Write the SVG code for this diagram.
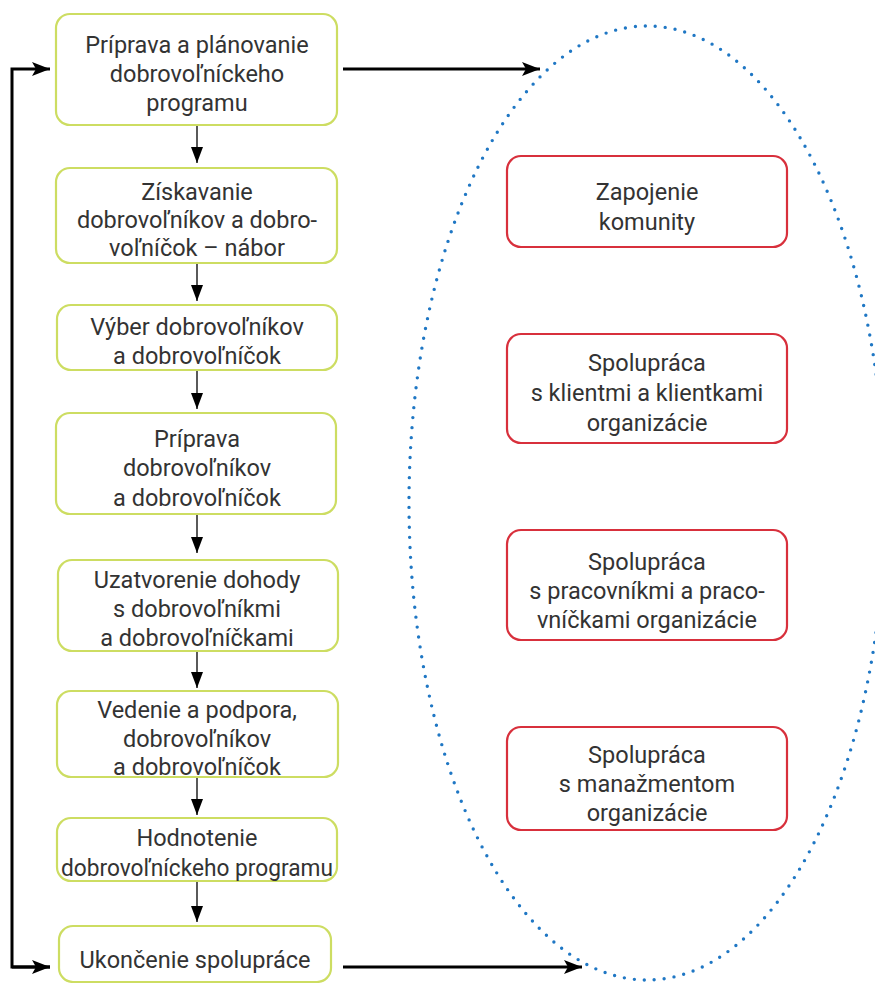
<svg xmlns="http://www.w3.org/2000/svg" width="875" height="983" viewBox="0 0 875 983">
<defs>
<style>
.g{fill:#fff;stroke:#cddd62;stroke-width:2.2}
.r{fill:#fff;stroke:#d8303c;stroke-width:2.2}
text{font-family:Roboto,"Liberation Sans",sans-serif;font-size:23.5px;fill:#333;text-anchor:middle}
.thin{stroke:#000;stroke-width:1.3;fill:none}
.thick{stroke:#000;stroke-width:3;fill:none}
</style>
<marker id="sh" viewBox="0 0 16 12" refX="16" refY="6" markerWidth="16" markerHeight="12" orient="auto" markerUnits="userSpaceOnUse">
<path d="M0,0 L16,6 L0,12 z" fill="#000"/>
</marker>
<marker id="bh" viewBox="0 0 18 14" refX="18" refY="7" markerWidth="18" markerHeight="14" orient="auto" markerUnits="userSpaceOnUse">
<path d="M0,0 L18,7 L0,14 L4,7 z" fill="#000"/>
</marker>
</defs>
<rect width="875" height="983" fill="#fff"/>
<ellipse id="circle" cx="647" cy="503" rx="238" ry="477" fill="none" stroke="#1f77c4" stroke-width="3.4" stroke-dasharray="0 10" stroke-linecap="round"/>
<g id="connectors">
<line class="thin" x1="197" y1="125" x2="197" y2="163" marker-end="url(#sh)"/>
<line class="thin" x1="197" y1="263" x2="197" y2="301" marker-end="url(#sh)"/>
<line class="thin" x1="197" y1="370" x2="197" y2="409" marker-end="url(#sh)"/>
<line class="thin" x1="197" y1="514" x2="197" y2="553" marker-end="url(#sh)"/>
<line class="thin" x1="197" y1="651" x2="197" y2="688" marker-end="url(#sh)"/>
<line class="thin" x1="197" y1="777" x2="197" y2="815" marker-end="url(#sh)"/>
<line class="thin" x1="197" y1="881" x2="197" y2="922" marker-end="url(#sh)"/>
<path class="thick" d="M50,967 H12 V69 H50" marker-end="url(#bh)"/>
<line class="thick" x1="12" y1="967" x2="50" y2="967" marker-end="url(#bh)"/>
<line class="thick" x1="343" y1="69" x2="540" y2="69" marker-end="url(#bh)"/>
<line class="thick" x1="343" y1="967" x2="582" y2="967" marker-end="url(#bh)"/>
</g>
<g id="n1"><rect class="g" x="56" y="14" width="281" height="111" rx="14"/>
<text x="197" y="53">Príprava a plánovanie</text><text x="197" y="82">dobrovoľníckeho</text><text x="197" y="111">programu</text></g>
<g id="n2"><rect class="g" x="56" y="168" width="281" height="95" rx="14"/>
<text x="197" y="200">Získavanie</text><text x="197" y="228">dobrovoľníkov a dobro-</text><text x="197" y="256">voľníčok – nábor</text></g>
<g id="n3"><rect class="g" x="57" y="305" width="280" height="65" rx="14"/>
<text x="197" y="335">Výber dobrovoľníkov</text><text x="197" y="364">a dobrovoľníčok</text></g>
<g id="n4"><rect class="g" x="56" y="413" width="280" height="101" rx="14"/>
<text x="197" y="447">Príprava</text><text x="197" y="476">dobrovoľníkov</text><text x="197" y="506">a dobrovoľníčok</text></g>
<g id="n5"><rect class="g" x="58" y="560" width="280" height="91" rx="14"/>
<text x="197" y="588">Uzatvorenie dohody</text><text x="197" y="617">s dobrovoľníkmi</text><text x="197" y="646">a dobrovoľníčkami</text></g>
<g id="n6"><rect class="g" x="57" y="691" width="281" height="86" rx="14"/>
<text x="197" y="718">Vedenie a podpora,</text><text x="197" y="747">dobrovoľníkov</text><text x="197" y="775">a dobrovoľníčok</text></g>
<g id="n7"><rect class="g" x="57" y="818" width="280" height="63" rx="14"/>
<text x="197" y="846">Hodnotenie</text><text x="197" y="876" textLength="272" lengthAdjust="spacingAndGlyphs">dobrovoľníckeho programu</text></g>
<g id="n8"><rect class="g" x="59" y="926" width="272" height="56" rx="14"/>
<text x="195" y="968">Ukončenie spolupráce</text></g>
<g id="r1"><rect class="r" x="507" y="156" width="280" height="91" rx="14"/>
<text x="647" y="200">Zapojenie</text><text x="647" y="230">komunity</text></g>
<g id="r2"><rect class="r" x="507" y="334" width="280" height="109" rx="14"/>
<text x="647" y="371">Spolupráca</text><text x="647" y="401">s klientmi a klientkami</text><text x="647" y="431">organizácie</text></g>
<g id="r3"><rect class="r" x="507" y="530" width="280" height="110" rx="14"/>
<text x="647" y="570">Spolupráca</text><text x="647" y="599">s pracovníkmi a praco-</text><text x="647" y="628">vníčkami organizácie</text></g>
<g id="r4"><rect class="r" x="507" y="727" width="280" height="103" rx="14"/>
<text x="647" y="763">Spolupráca</text><text x="647" y="792">s manažmentom</text><text x="647" y="821">organizácie</text></g>
</svg>
